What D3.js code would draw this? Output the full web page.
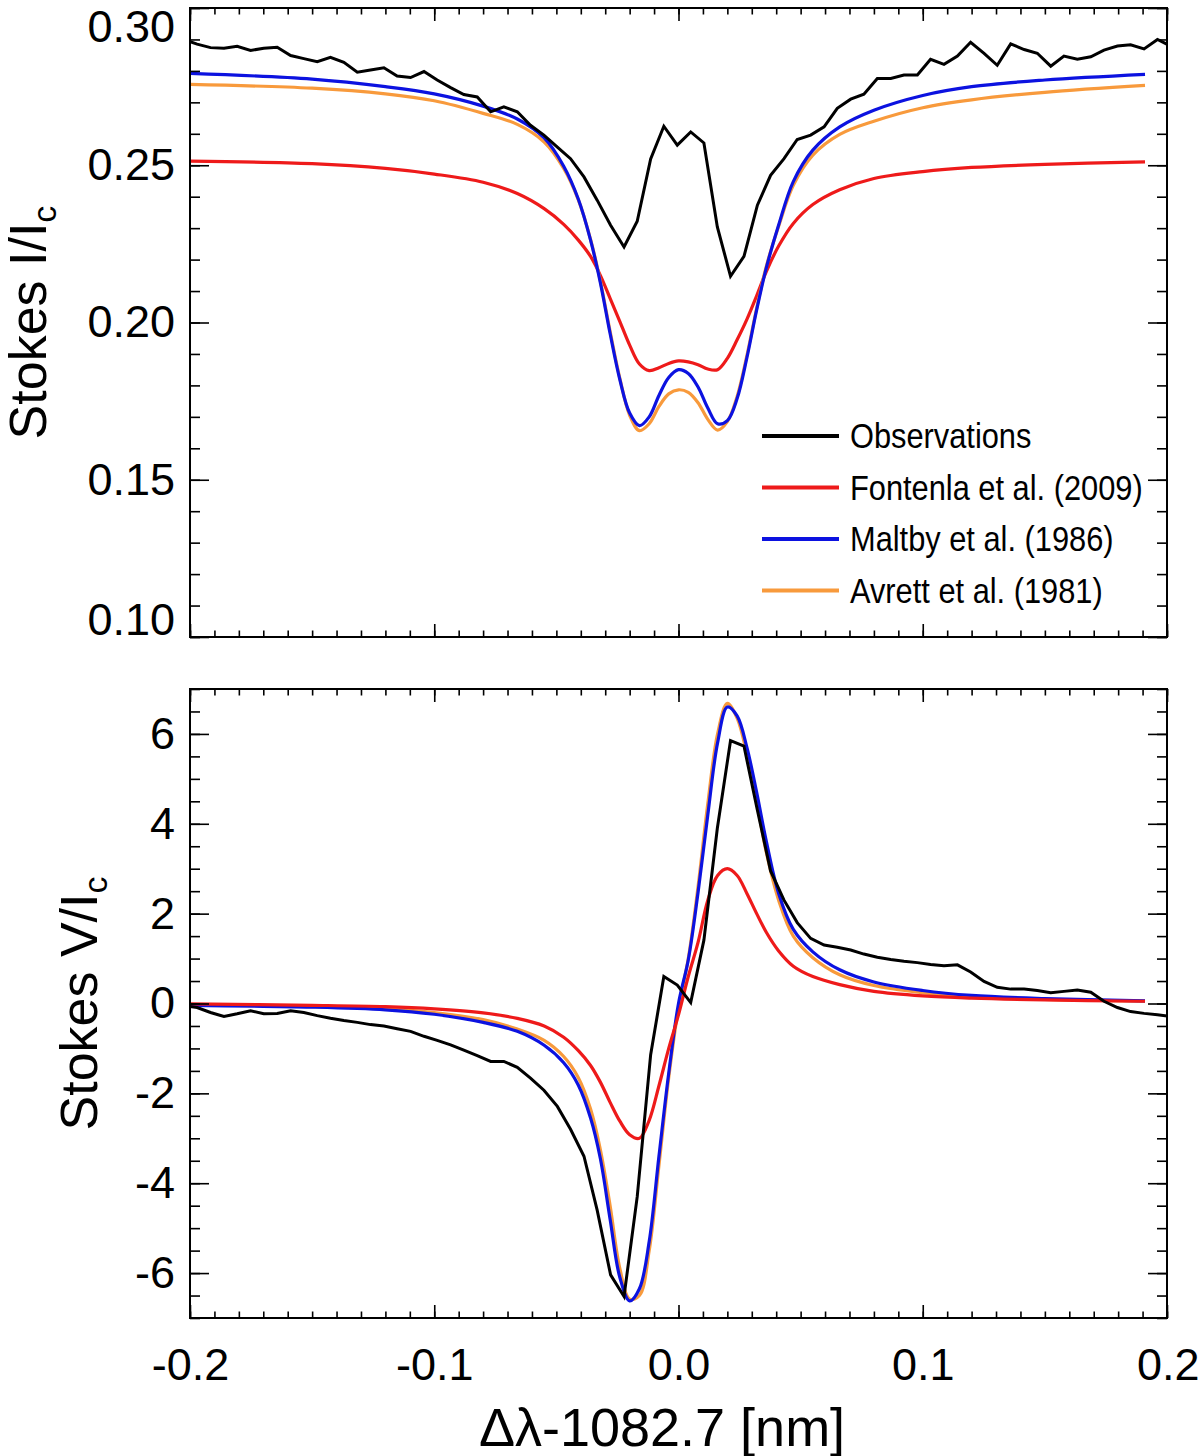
<!DOCTYPE html>
<html>
<head>
<meta charset="utf-8">
<script src="https://cdn.jsdelivr.net/npm/d3@7"></script>
<style>
  body { margin: 0; background: #fff; }
  .axis path { display: none; }
  .axis line { stroke: #000; stroke-width: 1.6px; }
  .axis text { font-family: "Liberation Sans", Arial, Helvetica, sans-serif; font-size: 45px; fill: #000; }
  .frame { fill: none; stroke: #000; stroke-width: 2px; }
  .title { font-family: "Liberation Sans", Arial, Helvetica, sans-serif; fill: #000; }
  .legend text { font-family: "Liberation Sans Narrow", "Arial Narrow", "Liberation Sans", sans-serif; font-size: 35px; fill: #000; }
</style>
</head>
<body>
<div id="chart"></div>
<script>
// observations (wavelength offset in nm)
var obsWave = [-0.2025, -0.1971, -0.1916, -0.1861, -0.1807, -0.1752, -0.1698, -0.1643, -0.1588, -0.1534,
  -0.1479, -0.1425, -0.1370, -0.1315, -0.1261, -0.1206, -0.1152, -0.1097, -0.1042, -0.0988,
  -0.0933, -0.0879, -0.0824, -0.0769, -0.0715, -0.0660, -0.0606, -0.0551, -0.0496, -0.0442,
  -0.0387, -0.0333, -0.0278, -0.0223, -0.0169, -0.0114, -0.0060, -0.0005, 0.0050, 0.0104,
  0.0159, 0.0213, 0.0268, 0.0323, 0.0377, 0.0432, 0.0486, 0.0541, 0.0596, 0.0650,
  0.0705, 0.0759, 0.0814, 0.0869, 0.0923, 0.0978, 0.1032, 0.1087, 0.1142, 0.1196,
  0.1251, 0.1305, 0.1360, 0.1415, 0.1469, 0.1524, 0.1578, 0.1633, 0.1688, 0.1742,
  0.1797, 0.1851, 0.1906, 0.1961, 0.2015];

var obsI = [0.2900, 0.2885, 0.2874, 0.2872, 0.2878, 0.2865, 0.2872, 0.2875, 0.2849, 0.2839,
  0.2829, 0.2843, 0.2827, 0.2796, 0.2803, 0.2810, 0.2784, 0.2779, 0.2798, 0.2771,
  0.2747, 0.2725, 0.2717, 0.2670, 0.2686, 0.2670, 0.2627, 0.2596, 0.2558, 0.2521,
  0.2463, 0.2389, 0.2309, 0.2240, 0.2322, 0.2520, 0.2624, 0.2564, 0.2606, 0.2571,
  0.2304, 0.2147, 0.2210, 0.2373, 0.2468, 0.2521, 0.2582, 0.2596, 0.2622, 0.2681,
  0.2710, 0.2726, 0.2776, 0.2776, 0.2787, 0.2787, 0.2837, 0.2821, 0.2847, 0.2891,
  0.2856, 0.2818, 0.2886, 0.2868, 0.2856, 0.2815, 0.2847, 0.2837, 0.2845, 0.2866,
  0.2879, 0.2883, 0.2870, 0.2900, 0.2879];

var obsV = [-0.05, -0.09, -0.20, -0.29, -0.23, -0.16, -0.23, -0.22, -0.16, -0.20,
  -0.27, -0.33, -0.38, -0.42, -0.47, -0.50, -0.56, -0.62, -0.73, -0.82,
  -0.92, -1.04, -1.16, -1.29, -1.29, -1.42, -1.66, -1.93, -2.29, -2.80,
  -3.40, -4.60, -6.04, -6.52, -4.30, -1.14, 0.60, 0.41, 0.02, 1.41,
  3.90, 5.85, 5.73, 4.30, 2.95, 2.30, 1.80, 1.45, 1.30, 1.25,
  1.19, 1.10, 1.03, 0.98, 0.94, 0.91, 0.87, 0.84, 0.86, 0.70,
  0.49, 0.36, 0.32, 0.32, 0.29, 0.24, 0.27, 0.30, 0.25, 0.05,
  -0.09, -0.18, -0.22, -0.25, -0.29];

// synthetic profiles from the three atmosphere models
var modelWave = [-0.2, -0.15, -0.12, -0.1, -0.08, -0.066, -0.055, -0.047, -0.041, -0.036,
  -0.032, -0.028, -0.024, -0.02, -0.016, -0.012, -0.008, -0.004, 0, 0.004,
  0.008, 0.012, 0.016, 0.02, 0.024, 0.028, 0.032, 0.036, 0.041, 0.047,
  0.055, 0.066, 0.08, 0.1, 0.12, 0.15, 0.191];

var fontenlaI = [0.2513, 0.2505, 0.2490, 0.2472, 0.2446, 0.2410, 0.2362, 0.2312, 0.2262, 0.2210,
  0.2150, 0.2077, 0.2003, 0.1928, 0.1868, 0.1847, 0.1856, 0.1870, 0.1878, 0.1875,
  0.1866, 0.1852, 0.1850, 0.1886, 0.1945, 0.2010, 0.2085, 0.2163, 0.2243, 0.2315,
  0.2375, 0.2422, 0.2458, 0.2480, 0.2493, 0.2503, 0.2511];
var maltbyI = [0.2792, 0.2774, 0.2750, 0.2727, 0.2688, 0.2647, 0.2587, 0.2497, 0.2392, 0.2262,
  0.2127, 0.1965, 0.1818, 0.1712, 0.1672, 0.1700, 0.1768, 0.1825, 0.1850, 0.1838,
  0.1795, 0.1728, 0.1678, 0.1688, 0.1758, 0.1888, 0.2040, 0.2175, 0.2310, 0.2448,
  0.2548, 0.2622, 0.2675, 0.2722, 0.2750, 0.2771, 0.2789];
var avrettI = [0.2757, 0.2745, 0.2727, 0.2705, 0.2665, 0.2630, 0.2574, 0.2490, 0.2390, 0.2264,
  0.2132, 0.1972, 0.1822, 0.1705, 0.1656, 0.1678, 0.1733, 0.1773, 0.1786, 0.1778,
  0.1745, 0.1692, 0.1658, 0.1685, 0.1765, 0.1895, 0.2045, 0.2180, 0.2306, 0.2436,
  0.2532, 0.2598, 0.2640, 0.2683, 0.2708, 0.2732, 0.2754];

var fontenlaV = [-0.01, -0.04, -0.07, -0.12, -0.21, -0.33, -0.50, -0.75, -1.05, -1.38,
  -1.75, -2.20, -2.62, -2.92, -3.00, -2.60, -1.83, -1.00, -0.25, 0.60,
  1.36, 2.30, 2.85, 3.00, 2.85, 2.45, 2.00, 1.58, 1.17, 0.83,
  0.60, 0.42, 0.27, 0.17, 0.12, 0.08, 0.05];
var maltbyV = [-0.04, -0.08, -0.14, -0.24, -0.42, -0.62, -0.93, -1.32, -1.82, -2.55,
  -3.45, -4.80, -6.10, -6.62, -6.35, -5.30, -3.40, -1.55, 0.00, 0.97,
  2.47, 4.20, 5.80, 6.60, 6.40, 5.70, 4.70, 3.60, 2.45, 1.65,
  1.15, 0.75, 0.48, 0.29, 0.18, 0.11, 0.06];
var avrettV = [-0.03, -0.07, -0.12, -0.20, -0.36, -0.57, -0.82, -1.18, -1.65, -2.35,
  -3.25, -4.50, -5.90, -6.58, -6.50, -5.50, -3.60, -1.65, -0.10, 1.00,
  2.60, 4.45, 6.00, 6.68, 6.35, 5.55, 4.50, 3.35, 2.30, 1.50,
  1.02, 0.64, 0.40, 0.24, 0.15, 0.09, 0.055];

var waveTicks = [-0.2, -0.1, 0.0, 0.1, 0.2];
var iTicks = [0.10, 0.15, 0.20, 0.25, 0.30];
var vTicks = [-6, -4, -2, 0, 2, 4, 6];

var legendLabels = ["Observations", "Fontenla et al. (2009)", "Maltby et al. (1986)", "Avrett et al. (1981)"];
var colors = { obs: "#000000", fontenla: "#ee1a1a", maltby: "#0c12e0", avrett: "#f89a3c" };

var W = 1200, H = 1456;
var left = 190, right = 1167;

var svg = d3.select("#chart").append("svg")
    .attr("width", W)
    .attr("height", H);

var x = d3.scaleLinear().domain([-0.2, 0.2]).range([left, right]);

function zip(xs, ys) {
  return xs.map(function(d, i) { return [d, ys[i]]; });
}

function panel(opt) {
  var y = d3.scaleLinear().domain(opt.domain).range([opt.bottom, opt.top]);
  var g = svg.append("g");

  g.append("clipPath").attr("id", opt.id)
    .append("rect")
      .attr("x", left).attr("y", opt.top)
      .attr("width", right - left).attr("height", opt.bottom - opt.top);

  var smooth = d3.line()
      .x(function(d) { return x(d[0]); })
      .y(function(d) { return y(d[1]); })
      .curve(d3.curveCatmullRom.alpha(0.5));
  var jagged = d3.line()
      .x(function(d) { return x(d[0]); })
      .y(function(d) { return y(d[1]); });

  var lines = g.append("g").attr("clip-path", "url(#" + opt.id + ")");

  opt.models.forEach(function(m) {
    lines.append("path")
      .attr("d", smooth(zip(modelWave, m.values)))
      .attr("fill", "none")
      .attr("stroke", m.color)
      .attr("stroke-width", 3.2);
  });

  lines.append("path")
    .attr("d", jagged(zip(obsWave, opt.obs)))
    .attr("fill", "none")
    .attr("stroke", colors.obs)
    .attr("stroke-width", 3)
    .attr("stroke-linejoin", "miter");

  // frame with inward ticks on all four sides
  var major = 13, minor = 6.5, majorY = 19, minorY = 10;

  var bottomAx = g.append("g").attr("class", "axis")
    .attr("transform", "translate(0," + opt.bottom + ")")
    .call(d3.axisBottom(x).tickValues(waveTicks).tickSize(-major).tickPadding(30));
  bottomAx.selectAll("text")
    .text(function(d) { return opt.xLabels ? d3.format(".1f")(d).replace("−", "-") : ""; })
    .attr("text-anchor", function(d) { return d === 0.2 ? "end" : "middle"; })
    .attr("x", function(d) { return d === 0.2 ? W - 1 - x(d) : 0; });
  g.append("g").attr("class", "axis")
    .attr("transform", "translate(0," + opt.bottom + ")")
    .call(d3.axisBottom(x).ticks(40).tickSize(-minor).tickFormat(""));
  g.append("g").attr("class", "axis")
    .attr("transform", "translate(0," + opt.top + ")")
    .call(d3.axisTop(x).tickValues(waveTicks).tickSize(-major).tickFormat(""));
  g.append("g").attr("class", "axis")
    .attr("transform", "translate(0," + opt.top + ")")
    .call(d3.axisTop(x).ticks(40).tickSize(-minor).tickFormat(""));

  var leftAx = g.append("g").attr("class", "axis")
    .attr("transform", "translate(" + left + ",0)")
    .call(d3.axisLeft(y).tickValues(opt.yTicks).tickSize(-majorY).tickPadding(15));
  leftAx.selectAll("text")
    .text(function(d) { return opt.yFormat(d).replace("−", "-"); })
    .attr("y", function(d) { return opt.labelShift ? opt.labelShift(d) : 0; });
  g.append("g").attr("class", "axis")
    .attr("transform", "translate(" + left + ",0)")
    .call(d3.axisLeft(y).ticks(opt.minorCount).tickSize(-minorY).tickFormat(""));
  g.append("g").attr("class", "axis")
    .attr("transform", "translate(" + right + ",0)")
    .call(d3.axisRight(y).tickValues(opt.yTicks).tickSize(-majorY).tickFormat(""));
  g.append("g").attr("class", "axis")
    .attr("transform", "translate(" + right + ",0)")
    .call(d3.axisRight(y).ticks(opt.minorCount).tickSize(-minorY).tickFormat(""));

  g.append("rect").attr("class", "frame")
    .attr("x", left).attr("y", opt.top)
    .attr("width", right - left).attr("height", opt.bottom - opt.top);

  // rotated y title with subscript c
  var t = g.append("text").attr("class", "title")
    .attr("transform", "translate(" + opt.titleX + "," + ((opt.top + opt.bottom) / 2) + ") rotate(-90)")
    .attr("text-anchor", "middle")
    .style("font-size", "52px");
  t.append("tspan").text(opt.yTitle);
  t.append("tspan").text("c").style("font-size", "34px").attr("dy", 10);

  return y;
}

panel({
  id: "clipI", top: 8, bottom: 637, domain: [0.10, 0.30],
  yTicks: iTicks, minorCount: 20, yFormat: d3.format(".2f"),
  labelShift: function(d) { return d > 0.29 ? 19 : (d < 0.11 ? -17 : 0); },
  yTitle: "Stokes I/I", titleX: 46, obs: obsI, xLabels: false,
  models: [
    { values: fontenlaI, color: colors.fontenla },
    { values: avrettI, color: colors.avrett },
    { values: maltbyI, color: colors.maltby }
  ]
});

panel({
  id: "clipV", top: 689, bottom: 1318, domain: [-7, 7],
  yTicks: vTicks, minorCount: 28, yFormat: d3.format("d"),
  yTitle: "Stokes V/I", titleX: 97, obs: obsV, xLabels: true,
  models: [
    { values: avrettV, color: colors.avrett },
    { values: maltbyV, color: colors.maltby },
    { values: fontenlaV, color: colors.fontenla }
  ]
});

svg.append("text").attr("class", "title")
  .attr("x", 662).attr("y", 1446)
  .attr("text-anchor", "middle")
  .style("font-size", "54px")
  .text("Δλ-1082.7 [nm]");

// legend
var legendColors = [colors.obs, colors.fontenla, colors.maltby, colors.avrett];
var legend = svg.append("g").attr("class", "legend");
var item = legend.selectAll("g")
    .data(legendLabels)
  .enter().append("g")
    .attr("transform", function(d, i) { return "translate(762," + (436 + i * 51.5) + ")"; });
item.append("line")
    .attr("x1", 0).attr("x2", 77)
    .attr("stroke", function(d, i) { return legendColors[i]; })
    .attr("stroke-width", 4);
item.append("text")
    .attr("transform", "translate(88,0) scale(0.88,1)")
    .attr("dy", "0.35em")
    .text(function(d) { return d; });
</script>
</body>
</html>
